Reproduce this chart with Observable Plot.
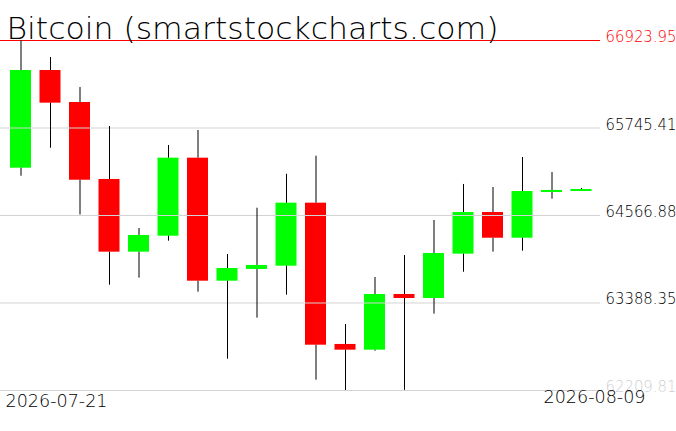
<!DOCTYPE html>
<html>
<head>
<meta charset="utf-8">
<script src="https://cdn.jsdelivr.net/npm/d3@7"></script>
<script src="https://cdn.jsdelivr.net/npm/@observablehq/plot@0.6"></script>
<style>
  html, body { margin: 0; padding: 0; background: #fff; }
  svg { display: block; }
</style>
</head>
<body>
<div id="chart"></div>
<script>
const title = "Bitcoin (smartstockcharts.com)";
const dates = ["2026-07-21","2026-07-22","2026-07-23","2026-07-24","2026-07-25","2026-07-26","2026-07-27","2026-07-28","2026-07-29","2026-07-30",
               "2026-07-31","2026-08-01","2026-08-02","2026-08-03","2026-08-04","2026-08-05","2026-08-06","2026-08-07","2026-08-08","2026-08-09"];
const open  = [65204, 66520, 66089, 65052, 64073, 64288, 65339, 63682, 63840, 63884, 64733, 62830, 62753, 63503, 63449, 64046, 64607, 64261, 64877, 64890];
const high  = [66923.95, 66695, 66291, 65766, 64392, 65510, 65712, 64042, 64665, 65123, 65366, 63099, 63732, 64028, 64500, 64985, 64944, 65348, 65146, 64931];
const low   = [65096, 65473, 64574, 63628, 63723, 64221, 63534, 62631, 63184, 63494, 62349, 62209.81, 62739, 62212, 63238, 63803, 64073, 64086, 64787, 64890];
const close = [66520, 66080, 65042, 64073, 64298, 65339, 63682, 63853, 63894, 64733, 62820, 62753, 63503, 63449, 64055, 64607, 64261, 64890, 64904, 64917];
const tickValues = [62209.81, 63388.35, 64566.88, 65745.41, 66923.95];
const tickLabels = ["62209.81", "63388.35", "64566.88", "65745.41", "66923.95"];
const dateLabels = ["2026-07-21", "2026-08-09"];

const rows = dates.map((d, i) => ({
  i, date: d, open: open[i], high: high[i], low: low[i], close: close[i],
  top: Math.max(open[i], close[i]), bottom: Math.min(open[i], close[i])
}));
const yMin = d3.min(tickValues), yMax = d3.max(tickValues);
const ticks = tickValues.map((v, k) => ({v, label: tickLabels[k]}));
const half = 0.356;
const thin = "DejaVu Sans, sans-serif";

const chart = Plot.plot({
  width: 676,
  height: 431,
  marginTop: 40,
  marginBottom: 41,
  marginLeft: 0,
  marginRight: 76,
  x: {type: "linear", domain: [-0.695, 19.644], axis: null},
  y: {domain: [yMin, yMax], axis: null},
  color: {type: "identity"},
  marks: [
    Plot.rectY(rows, {
      x1: d => d.i - half, x2: d => d.i + half,
      y1: "bottom", y2: "top",
      fill: d => d.close >= d.open ? "#00ff00" : "#ff0000"
    }),
    Plot.ruleY(ticks, {y: "v", stroke: d => d.v === yMax ? "#ff0000" : "#d3d3d3", strokeWidth: 1}),
    Plot.ruleX(rows, {x: "i", y1: "high", y2: "top", stroke: "#000", strokeWidth: 1}),
    Plot.ruleX(rows, {x: "i", y1: "bottom", y2: "low", stroke: "#000", strokeWidth: 1}),
    Plot.text(ticks, {
      y: "v", text: "label", frameAnchor: "right", textAnchor: "start", lineAnchor: "bottom",
      dx: 5, dy: 1.5, fontSize: 15, fontFamily: thin, fontWeight: 200,
      fill: d => d.v === yMax ? "#ff0000" : d.v === yMin ? "#d0d0d0" : "#000",
      className: "ylab"
    }),
    Plot.text([dateLabels[0]], {
      text: d => d, frameAnchor: "bottom-left", textAnchor: "start", lineAnchor: "bottom",
      dx: 5, dy: 16.5, fontSize: 17, fontFamily: thin, fontWeight: 200, fill: "#000",
      className: "xlab"
    }),
    Plot.text([dateLabels[1]], {
      text: d => d, frameAnchor: "bottom-right", textAnchor: "end", lineAnchor: "bottom",
      dx: 45, dy: 12, fontSize: 17, fontFamily: thin, fontWeight: 200, fill: "#000",
      className: "xlab"
    }),
    Plot.text([title], {
      text: d => d, frameAnchor: "top-left", textAnchor: "start", lineAnchor: "bottom",
      dx: 6, dy: -2, fontSize: 30, fontFamily: thin, fontWeight: 200, fill: "#000",
      className: "chart-title"
    })
  ]
});
document.getElementById("chart").appendChild(chart);
const sel = d3.select(chart);
sel.selectAll(".chart-title text").attr("textLength", 492).attr("lengthAdjust", "spacingAndGlyphs");
sel.selectAll(".ylab text").attr("textLength", 71).attr("lengthAdjust", "spacingAndGlyphs");
sel.selectAll(".xlab text").attr("textLength", 102).attr("lengthAdjust", "spacingAndGlyphs");
</script>
</body>
</html>
